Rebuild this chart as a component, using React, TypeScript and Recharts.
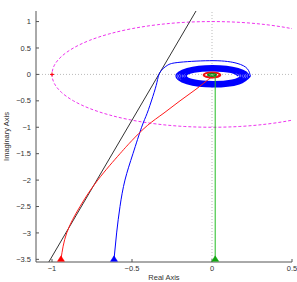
import React from 'react';
import {
  LineChart,
  Line,
  XAxis,
  YAxis,
  ReferenceLine,
  ReferenceDot,
  Label,
} from 'recharts';

type Pt = [number, number];

const xTicks = [-1, -0.5, 0, 0.5];
const yTicks = [-3.5, -3, -2.5, -2, -1.5, -1, -0.5, 0, 0.5, 1];

// unit circle (magenta dashed)
const unitCircle: Pt[] = [
  [1, 0], [0.985, 0.174], [0.94, 0.342], [0.866, 0.5], [0.766, 0.643], [0.643, 0.766],
  [0.5, 0.866], [0.342, 0.94], [0.174, 0.985], [0, 1], [-0.174, 0.985], [-0.342, 0.94],
  [-0.5, 0.866], [-0.643, 0.766], [-0.766, 0.643], [-0.866, 0.5], [-0.94, 0.342], [-0.985, 0.174],
  [-1, 0], [-0.985, -0.174], [-0.94, -0.342], [-0.866, -0.5], [-0.766, -0.643], [-0.643, -0.766],
  [-0.5, -0.866], [-0.342, -0.94], [-0.174, -0.985], [0, -1], [0.174, -0.985], [0.342, -0.94],
  [0.5, -0.866], [0.643, -0.766], [0.766, -0.643], [0.866, -0.5], [0.94, -0.342], [0.985, -0.174],
  [1, 0],
];

const blackLine: Pt[] = [[-1.02, -3.55], [-0.1, 1.2]];

const blueApproach: Pt[] = [
  [-0.6125, -3.5], [-0.596, -3.0], [-0.575, -2.5], [-0.544, -2.0], [-0.494, -1.5],
  [-0.44, -1.0], [-0.406, -0.74], [-0.37, -0.42], [-0.344, -0.15], [-0.325, 0.04],
  [-0.28, 0.17], [-0.2, 0.23], [0.0125, 0.26], [0.156, 0.21], [0.22, 0.11], [0.24, -0.03],
];

const blueSpiral: Pt[] = [
  [0.24, -0.03], [0.17, -0.177], [0.005, -0.236], [-0.158, -0.174], [-0.225, -0.03], [-0.156, 0.111], [0.005, 0.168], [0.164, 0.108],
  [0.229, -0.03], [0.163, -0.165], [0.005, -0.22], [-0.151, -0.163], [-0.214, -0.03], [-0.149, 0.1], [0.005, 0.151], [0.157, 0.097],
  [0.219, -0.03], [0.155, -0.154], [0.005, -0.203], [-0.143, -0.151], [-0.203, -0.03], [-0.141, 0.088], [0.005, 0.135], [0.149, 0.085],
  [0.208, -0.03], [0.148, -0.142], [0.005, -0.187], [-0.136, -0.139], [-0.193, -0.03], [-0.134, 0.076], [0.005, 0.119], [0.142, 0.074],
  [0.197, -0.03], [0.14, -0.131], [0.005, -0.17], [-0.128, -0.128], [-0.182, -0.03], [-0.126, 0.065], [0.005, 0.102], [0.134, 0.062],
  [0.187, -0.03], [0.132, -0.119], [0.005, -0.154], [-0.121, -0.116], [-0.171, -0.03], [-0.119, 0.053], [0.005, 0.086], [0.127, 0.05],
  [0.176, -0.03], [0.125, -0.107], [0.005, -0.138], [-0.113, -0.105], [-0.161, -0.03], [-0.111, 0.042], [0.005, 0.069], [0.119, 0.039],
  [0.165, -0.03],
];

const redApproach: Pt[] = [
  [-0.944, -3.5], [-0.908, -3.0], [-0.825, -2.5], [-0.714, -2.0], [-0.575, -1.5], [-0.5, -1.25],
  [-0.405, -0.97], [-0.3, -0.73], [-0.2, -0.5], [-0.1, -0.28], [-0.02, -0.09], [0, -0.06],
];

const redRing: Pt[] = [
  [0, -0.06], [0.037, -0.045], [0.053, -0.01], [0.037, 0.025], [0, 0.04], [-0.037, 0.025], [-0.053, -0.01], [-0.037, -0.045],
  [0, -0.058], [0.035, -0.043], [0.05, -0.01], [0.035, 0.023], [0, 0.036], [-0.035, 0.023], [-0.05, -0.01], [-0.035, -0.043],
  [0, -0.055], [0.033, -0.04], [0.046, -0.01],
];

const greenStem: Pt[] = [[0.02, -3.5], [0.02, -0.07], [0.019, -0.026]];

const greenRing: Pt[] = [
  [0.019, -0.026], [0.027, -0.008], [0.019, 0.01], [0, 0.017], [-0.019, 0.01], [-0.027, -0.008], [-0.019, -0.026], [0, -0.033],
  [0.017, -0.025], [0.024, -0.008], [0.017, 0.008], [0, 0.014], [-0.017, 0.008], [-0.024, -0.008], [-0.017, -0.024], [0, -0.03],
];

const startMarkers: { x: number; y: number; color: string }[] = [
  { x: -0.944, y: -3.5, color: '#ff0000' },
  { x: -0.6125, y: -3.5, color: '#0000ff' },
  { x: 0.02, y: -3.5, color: '#12a612' },
];

const criticalPoint = { x: -1, y: 0 };

const toRows = (pts: Pt[]) => pts.map(([x, y]) => ({ x, y }));

const fmt = (v: number) => String(v).replace('-', '\u2212');

const Triangle = (props: any) => {
  const { cx, cy, fill } = props;
  if (cx == null || cy == null) return null;
  return (
    <polygon
      points={`${cx},${cy - 3.5} ${cx - 3.5},${cy + 2} ${cx + 3.5},${cy + 2}`}
      fill={fill}
      stroke={fill}
      strokeWidth={0.5}
    />
  );
};

const Plus = (props: any) => {
  const { cx, cy } = props;
  if (cx == null || cy == null) return null;
  return (
    <g stroke="#ff0000" strokeWidth={1}>
      <line x1={cx - 2} y1={cy} x2={cx + 2} y2={cy} />
      <line x1={cx} y1={cy - 2} x2={cx} y2={cy + 2} />
    </g>
  );
};

const axisColor = '#555';
const tickStyle = { fill: '#333', fontSize: 7.5, fontFamily: 'Arial, Helvetica, sans-serif' };

export default function App() {
  const common = { dataKey: 'y', dot: false, activeDot: false, isAnimationActive: false } as const;
  return (
    <div style={{ position: 'absolute', left: 0, top: 0, width: 297, height: 282, background: '#fff' }}>
      <LineChart width={297} height={282} margin={{ top: 11, right: 5, bottom: 0, left: 0 }}>
        <XAxis
          dataKey="x"
          type="number"
          domain={[-1.1, 0.5]}
          allowDataOverflow
          ticks={xTicks}
          interval={0}
          height={20}
          tickSize={-3}
          tickMargin={7}
          tickFormatter={fmt}
          stroke={axisColor}
          tick={tickStyle}
        >
          <Label
            value="Real Axis"
            position="insideBottom"
            offset={2}
            style={{ fill: '#333', fontSize: 7.5, fontFamily: 'Arial, Helvetica, sans-serif' }}
          />
        </XAxis>
        <XAxis
          xAxisId="top"
          orientation="top"
          type="number"
          domain={[-1.1, 0.5]}
          allowDataOverflow
          ticks={xTicks}
          interval={0}
          height={0}
          tickSize={-3}
          tick={false}
          stroke={axisColor}
        />
        <YAxis
          type="number"
          domain={[-3.55, 1.2]}
          allowDataOverflow
          ticks={yTicks}
          interval={0}
          width={36}
          tickSize={-3}
          tickMargin={8}
          tickFormatter={fmt}
          stroke={axisColor}
          tick={tickStyle}
        >
          <Label
            value="Imaginary Axis"
            angle={-90}
            position="insideLeft"
            offset={6}
            style={{ fill: '#333', fontSize: 7.5, fontFamily: 'Arial, Helvetica, sans-serif', textAnchor: 'middle' }}
          />
        </YAxis>
        <YAxis
          yAxisId="right"
          orientation="right"
          type="number"
          domain={[-3.55, 1.2]}
          allowDataOverflow
          ticks={yTicks}
          interval={0}
          width={0}
          tickSize={-3}
          tick={false}
          stroke={axisColor}
        />
        <ReferenceLine x={0} stroke="#bbb" strokeDasharray="1 2" />
        <ReferenceLine y={0} stroke="#bbb" strokeDasharray="1 2" />

        <Line {...common} data={toRows(unitCircle)} type="natural" stroke="#ee33ee" strokeWidth={1} strokeDasharray="3 2" />
        <Line {...common} data={toRows(blackLine)} type="linear" stroke="#333" strokeWidth={1} />
        <Line {...common} data={toRows(blueApproach)} type="natural" stroke="#0000ff" strokeWidth={1} />
        <Line {...common} data={toRows(blueSpiral)} type="natural" stroke="#0000ff" strokeWidth={1.3} />
        <Line {...common} data={toRows(redApproach)} type="natural" stroke="#ff1a1a" strokeWidth={1} />
        <Line {...common} data={toRows(redRing)} type="natural" stroke="#ee1111" strokeWidth={1.8} />
        <Line {...common} data={toRows(greenStem)} type="linear" stroke="#22bb22" strokeWidth={1} />
        <Line {...common} data={toRows(greenRing)} type="natural" stroke="#118811" strokeWidth={1.5} />

        {startMarkers.map((m, i) => (
          <ReferenceDot key={i} x={m.x} y={m.y} r={3} fill={m.color} shape={(p: any) => <Triangle {...p} fill={m.color} />} />
        ))}
        <ReferenceDot x={criticalPoint.x} y={criticalPoint.y} r={2} shape={(p: any) => <Plus {...p} />} />
      </LineChart>
    </div>
  );
}
